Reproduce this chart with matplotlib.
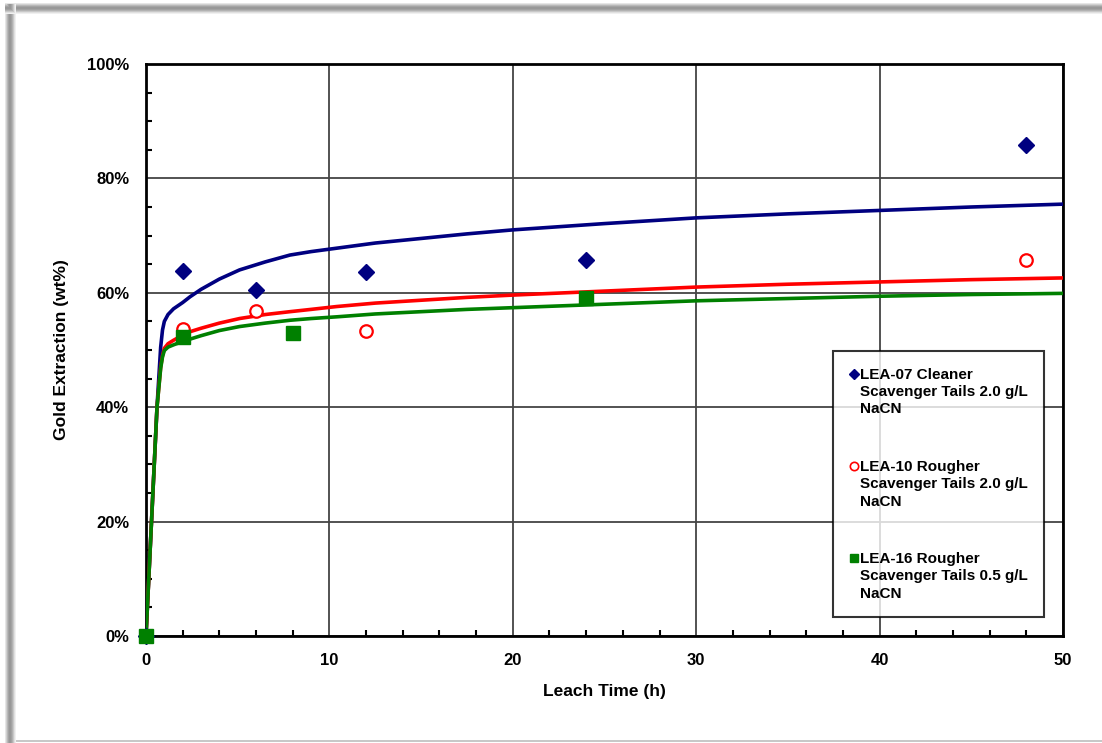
import matplotlib
matplotlib.use("Agg")
import matplotlib.pyplot as plt
from matplotlib.patches import Rectangle
from matplotlib.lines import Line2D
from matplotlib.legend_handler import HandlerLine2D
from matplotlib.ticker import MultipleLocator, PercentFormatter

plt.rcParams['font.family'] = ['Liberation Sans', 'DejaVu Sans']
plt.rcParams['font.weight'] = 'bold'

# Measured extraction (%) vs leach time (h)
lea07_t = [0, 2, 6, 12, 24, 48]
lea07_y = [0, 63.8, 60.5, 63.6, 65.7, 85.8]
lea10_t = [0, 2, 6, 12, 24, 48]
lea10_y = [0, 53.7, 56.8, 53.3, 59.1, 65.7]
lea16_t = [0, 2, 8, 24]
lea16_y = [0, 52.3, 53.0, 59.1]

# Model curves (%)
fit_t = [0, 0.3, 0.6, 0.8, 0.9, 1.0, 1.2, 1.5, 2.0, 2.4, 3.0, 4.0, 5.1, 6.5, 7.85,
         9.0, 10.4, 12.5, 15, 17.5, 20, 25, 30, 35, 40, 45, 50]
fit07 = [0, 20, 40, 50.5, 53.5, 55.0, 56.2, 57.2, 58.3, 59.3, 60.6, 62.4, 64.0, 65.4, 66.6,
         67.2, 67.8, 68.7, 69.5, 70.3, 71.0, 72.1, 73.1, 73.8, 74.4, 75.0, 75.5]
fit10 = [0, 20, 40, 47.0, 49.0, 50.3, 51.1, 51.7, 52.6, 53.2, 53.8, 54.7, 55.5, 56.2, 56.7,
         57.1, 57.6, 58.2, 58.7, 59.2, 59.6, 60.3, 61.0, 61.5, 61.9, 62.3, 62.6]
fit16 = [0, 20, 40, 46.8, 48.8, 49.9, 50.5, 50.9, 51.5, 51.9, 52.5, 53.4, 54.1, 54.7, 55.2,
         55.5, 55.8, 56.3, 56.7, 57.1, 57.4, 58.0, 58.6, 59.0, 59.4, 59.7, 59.9]

labels = ["LEA-07 Cleaner\nScavenger Tails 2.0 g/L\nNaCN",
          "LEA-10 Rougher\nScavenger Tails 2.0 g/L\nNaCN",
          "LEA-16 Rougher\nScavenger Tails 0.5 g/L\nNaCN"]

blue = '#000080'
red = '#ff0000'
green = '#008000'

W, H = 1102, 743
fig = plt.figure(figsize=(W / 100, H / 100), dpi=100)
fig.patch.set_facecolor('white')


# soft grey frame around the panel
def px_rect(x, y, w, h, color):
    fig.add_artist(Rectangle((x / W, 1 - (y + h) / H), w / W, h / H,
                             transform=fig.transFigure, facecolor=color,
                             edgecolor='none', zorder=-5))


shade = ['#e6e6e6', '#d0d0d0', '#b8b8b8', '#a4a4a4', '#989898',
         '#989898', '#a2a2a2', '#b2b2b2', '#c8c8c8', '#e0e0e0', '#f0f0f0']
for i, c in enumerate(shade):
    px_rect(5 + i, 4, 1.05, H - 4, c)
    px_rect(5, 3 + i, W - 5, 1.05, c)
px_rect(16, 14, W - 16, 726, 'white')
px_rect(16, 740, W - 16, 2, '#c8c8c8')

ax = fig.add_axes([146 / W, 1 - 636 / H, (1063 - 146) / W, (636 - 64) / H])

ax.plot(fit_t, fit07, color=blue, lw=2.6, zorder=3)
ax.plot(fit_t, fit10, color=red, lw=2.6, zorder=3)
ax.plot(fit_t, fit16, color=green, lw=2.6, zorder=3)

ax.plot(lea07_t, lea07_y, linestyle='none', marker='D', ms=8.5, color=blue,
        mec=blue, zorder=4, clip_on=False)
ax.plot(lea10_t, lea10_y, linestyle='none', marker='o', ms=9, mfc='white',
        mec=red, mew=1.6, zorder=4, clip_on=False)
ax.plot(lea16_t, lea16_y, linestyle='none', marker='s', ms=10, color=green,
        mec=green, zorder=5, clip_on=False)

ax.set_xlim(0, 50)
ax.set_ylim(0, 100)
ax.xaxis.set_major_locator(MultipleLocator(10))
ax.xaxis.set_minor_locator(MultipleLocator(2))
ax.yaxis.set_major_locator(MultipleLocator(20))
ax.yaxis.set_minor_locator(MultipleLocator(5))
ax.yaxis.set_major_formatter(PercentFormatter(decimals=0))
ax.grid(which='major', color='#444444', lw=1.3, zorder=1)
ax.set_axisbelow(True)
ax.tick_params(which='both', direction='in', color='black')
ax.tick_params(which='major', length=0, labelsize=12, pad=12)
ax.tick_params(axis='x', which='major', pad=12)
ax.tick_params(which='minor', length=4, width=1.5)
for s in ax.spines.values():
    s.set_linewidth(2)
    s.set_color('black')
    s.set_zorder(2)

ax.set_xlabel('Leach Time (h)', fontsize=12.5, fontweight='bold', labelpad=12)
ax.set_ylabel('Gold Extraction (wt%)', fontsize=12.5, fontweight='bold')
ax.yaxis.set_label_coords(-77 / (1063 - 146), 0.5)

LEG_FS = 11
LINE_SP = 1.3


class FirstLineHandler(HandlerLine2D):
    """Place the legend marker beside the first line of a multi-line label."""

    def create_artists(self, legend, orig_handle, xdescent, ydescent,
                       width, height, fontsize, trans):
        artists = super().create_artists(legend, orig_handle, xdescent, ydescent,
                                         width, height, fontsize, trans)
        shift = LINE_SP * fontsize * 0.92
        for a in artists:
            a.set_ydata([y + shift for y in a.get_ydata()])
        return artists


handles = [Line2D([], [], ls='none', marker='D', ms=5, color=blue),
           Line2D([], [], ls='none', marker='o', ms=6, mfc='white', mec=red, mew=1.2),
           Line2D([], [], ls='none', marker='s', ms=6, color=green)]
leg = fig.legend(handles, labels, loc='upper left',
                 bbox_to_anchor=(833 / W, 1 - 351 / H), bbox_transform=fig.transFigure,
                 frameon=True, fancybox=False, edgecolor='black',
                 prop={'size': LEG_FS, 'weight': 'bold'}, handlelength=0.5,
                 handletextpad=0.15, labelspacing=2.85, borderpad=1.1,
                 borderaxespad=0, handler_map={Line2D: FirstLineHandler(numpoints=1)})
leg.get_frame().set_linewidth(1.5)
for t in leg.get_texts():
    t.set_linespacing(LINE_SP)

fig.savefig('out.png', dpi=100, facecolor='white')
